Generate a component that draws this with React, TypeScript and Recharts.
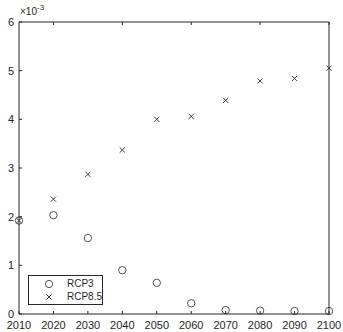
import { ComposedChart, Legend, Line, XAxis, YAxis } from "recharts";

const years = [2010, 2020, 2030, 2040, 2050, 2060, 2070, 2080, 2090, 2100];
const rcp3 = [1.92, 2.03, 1.56, 0.9, 0.64, 0.22, 0.08, 0.07, 0.06, 0.06];
const rcp85 = [1.92, 2.36, 2.87, 3.37, 4.0, 4.06, 4.39, 4.79, 4.84, 5.05];
const yTicks = [0, 1, 2, 3, 4, 5, 6];

const INK = "#262626";
const MARK = "#2b2b2b";
const FONT = "'Liberation Sans', Arial, sans-serif";

const data = years.map((year, i) => ({ year, rcp3: rcp3[i], rcp85: rcp85[i] }));

const Circle = (props: any) => {
  const { cx, cy, key } = props;
  if (cx == null || cy == null) return <g key={key} />;
  return <circle key={key} cx={cx} cy={cy} r={3.7} fill="none" stroke={MARK} strokeWidth={0.8} />;
};

const Cross = (props: any) => {
  const { cx, cy, key } = props;
  if (cx == null || cy == null) return <g key={key} />;
  const s = 2.6;
  return (
    <g key={key} stroke={MARK} strokeWidth={0.9}>
      <line x1={cx - s} y1={cy - s} x2={cx + s} y2={cy + s} />
      <line x1={cx - s} y1={cy + s} x2={cx + s} y2={cy - s} />
    </g>
  );
};

const LegendBox = () => (
  <div
    style={{
      width: 75,
      height: 30,
      border: `1px solid ${INK}`,
      background: "#fff",
      boxSizing: "border-box",
      position: "relative",
      fontFamily: FONT,
      fontSize: 10,
      color: INK,
    }}
  >
    <svg width={40} height={29} style={{ position: "absolute", left: 0, top: 0 }}>
      <Circle cx={20} cy={8} />
      <Cross cx={20} cy={21} />
    </svg>
    <span style={{ position: "absolute", left: 38, top: 2 }}>RCP3</span>
    <span style={{ position: "absolute", left: 38, top: 15 }}>RCP8.5</span>
  </div>
);

const noTick = () => null;

export default function App() {
  return (
    <div style={{ position: "absolute", left: 0, top: 0, width: 343, height: 332, background: "#fff" }}>
      <ComposedChart width={343} height={332} data={data} margin={{ top: 21, right: 13, bottom: 0, left: 0 }}>
        <XAxis
          xAxisId="bottom"
          dataKey="year"
          type="number"
          domain={[2010, 2100]}
          ticks={years}
          height={18}
          tickSize={-3}
          tickMargin={10}
          stroke={INK}
          tick={{ fill: INK, fontSize: 11, fontFamily: FONT }}
        />
        <XAxis
          xAxisId="top"
          orientation="top"
          dataKey="year"
          type="number"
          domain={[2010, 2100]}
          ticks={years}
          height={1}
          tickSize={-3}
          stroke={INK}
          tick={noTick}
        />
        <YAxis
          yAxisId="left"
          type="number"
          domain={[0, 6]}
          ticks={yTicks}
          width={19}
          tickSize={-3}
          tickMargin={8}
          stroke={INK}
          tick={{ fill: INK, fontSize: 11, fontFamily: FONT }}
        />
        <YAxis
          yAxisId="right"
          orientation="right"
          type="number"
          domain={[0, 6]}
          ticks={yTicks}
          width={1}
          tickSize={-3}
          stroke={INK}
          tick={noTick}
        />
        <Legend
          layout="vertical"
          align="center"
          verticalAlign="middle"
          content={LegendBox}
          wrapperStyle={{ left: 28, top: 275, width: 75, height: 30 }}
        />
        <Line
          xAxisId="bottom"
          yAxisId="left"
          dataKey="rcp3"
          name="RCP3"
          stroke="none"
          dot={Circle}
          activeDot={false}
          isAnimationActive={false}
        />
        <Line
          xAxisId="bottom"
          yAxisId="left"
          dataKey="rcp85"
          name="RCP8.5"
          stroke="none"
          dot={Cross}
          activeDot={false}
          isAnimationActive={false}
        />
      </ComposedChart>
      <div style={{ position: "absolute", left: 20, top: 4, fontFamily: FONT, fontSize: 10, color: INK }}>
        ×10<sup style={{ fontSize: 8, position: "relative", top: -1 }}>-3</sup>
      </div>
    </div>
  );
}
